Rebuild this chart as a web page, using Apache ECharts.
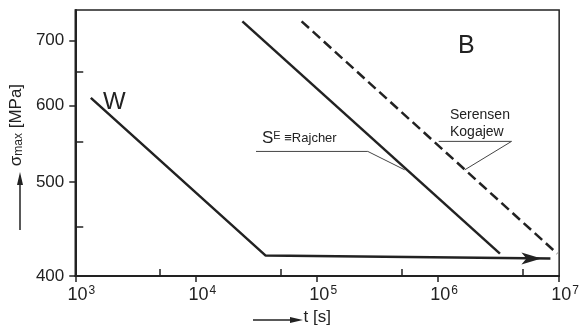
<!DOCTYPE html>
<html>
<head>
<meta charset="UTF-8">
<title>Wöhler</title>
<script src="https://cdn.jsdelivr.net/npm/echarts@6/dist/echarts.min.js"></script>
<style>
html, body { margin: 0; padding: 0; background: #fff; }
#main { width: 582px; height: 331px; }
</style>
</head>
<body>
<div id="main"></div>
<script>
// t [s] (log) vs sigma_max [MPa] (log)
var xLabelTicks = [1e3, 1e4, 1e5, 1e6, 1e7];
var xMinorTicks = [5e3, 5e4, 5e5, 5e6];
var yLabelTicks = [400, 500, 600, 700];
var yMinorTicks = [450, 550, 650];

var curveW = [[1345, 611], [37500, 420], [8.47e6, 417]];
var curveRajcher = [[24070, 733], [3.24e6, 422]];
var curveSerensen = [[74300, 733], [9.64e6, 422]];
// leader lines of the labels
var leaderRajcher = [[31200, 538], [262000, 538], [528000, 515]];
var leaderSerensen = [[1.01e6, 551], [4.04e6, 551], [1.66e6, 515]];

var ink = '#222';
var font = 'Liberation Sans';

function draw() {
    var myChart = echarts.init(document.getElementById('main'));

    var wData = curveW.map(function (p, i) {
        if (i == curveW.length - 1) {
            // arrow head at the end of W
            return {value: p, symbol: 'arrow', symbolSize: [9, 20], symbolRotate: -90, symbolOffset: [-9, 0]};
        }
        return {value: p, symbol: 'none'};
    });

    var option = {
        animation: false,
        textStyle: {fontFamily: font, color: ink},
        grid: {left: 74, right: 9, top: 10, bottom: 50, show: true, borderColor: ink, borderWidth: 1.5},
        xAxis: [
            {
                type: 'log', logBase: 10, min: 1e3, max: 1e7, position: 'bottom',
                axisLine: {show: true, lineStyle: {color: ink, width: 2}},
                axisTick: {show: true, customValues: xLabelTicks, inside: false, length: 6, lineStyle: {color: ink, width: 1.5}},
                axisLabel: {
                    customValues: xLabelTicks, margin: 9, padding: [0, 0, 0, 12],
                    formatter: function (v) {
                        return '{b|10}{sup|' + Math.round(Math.log10(v)) + '}';
                    },
                    rich: {
                        b: {fontSize: 18, fontFamily: font, color: ink},
                        sup: {fontSize: 12, fontFamily: font, color: ink, verticalAlign: 'top', padding: [0, 0, 8, 1]}
                    }
                },
                splitLine: {show: false}, minorTick: {show: false},
                name: 't [s]', nameLocation: 'middle', nameGap: 32,
                nameTextStyle: {fontSize: 17, fontFamily: font, color: ink}
            },
            {
                type: 'log', logBase: 10, min: 1e3, max: 1e7, position: 'bottom',
                axisLine: {show: false},
                axisTick: {show: true, customValues: xMinorTicks, inside: true, length: 7, lineStyle: {color: ink, width: 1.5}},
                axisLabel: {show: false},
                splitLine: {show: false}
            }
        ],
        yAxis: [
            {
                type: 'log', logBase: 10, min: 400, max: 753, position: 'left',
                axisLine: {show: true, lineStyle: {color: ink, width: 2}},
                axisTick: {show: true, customValues: yLabelTicks, inside: false, length: 6, lineStyle: {color: ink, width: 1.5}},
                axisLabel: {customValues: yLabelTicks, margin: 11, fontSize: 17, color: ink, fontFamily: font},
                splitLine: {show: false}, minorTick: {show: false},
                name: 'σ{sub|max} [MPa]', nameLocation: 'middle', nameGap: 44,
                nameTextStyle: {
                    fontSize: 17, fontFamily: font, color: ink, padding: [0, 0, 0, 36],
                    rich: {sub: {fontSize: 12, fontFamily: font, color: ink, verticalAlign: 'bottom'}}
                }
            },
            {
                type: 'log', logBase: 10, min: 400, max: 753, position: 'left',
                axisLine: {show: false},
                axisTick: {show: true, customValues: yMinorTicks, inside: true, length: 8, lineStyle: {color: ink, width: 1.5}},
                axisLabel: {show: false},
                splitLine: {show: false}
            }
        ],
        graphic: [
            {type: 'text', left: 103, top: 90, style: {text: 'W', fontSize: 24, fontFamily: font, fill: ink}},
            {type: 'text', left: 458, top: 34, style: {text: 'B', fontSize: 25, fontFamily: font, fill: ink}},
            {type: 'text', left: 262, top: 130, style: {
                text: '{s|S}{e|E}{r| ≡Rajcher}', fontFamily: font, fill: ink,
                rich: {
                    s: {fontSize: 17, fontFamily: font, fill: ink},
                    e: {fontSize: 11, fontFamily: font, fill: ink, verticalAlign: 'top'},
                    r: {fontSize: 13, fontFamily: font, fill: ink}
                }
            }},
            {type: 'text', left: 450, top: 107, style: {text: 'Serensen\nKogajew', fontSize: 14, lineHeight: 17, fontFamily: font, fill: ink}},
            // axis name arrows
            {type: 'line', shape: {x1: 253, y1: 320, x2: 296, y2: 320}, style: {stroke: ink, lineWidth: 1.5}},
            {type: 'polygon', shape: {points: [[303, 320], [290, 317], [290, 323]]}, style: {fill: ink}},
            {type: 'line', shape: {x1: 20, y1: 230, x2: 20, y2: 182}, style: {stroke: ink, lineWidth: 1.5}},
            {type: 'polygon', shape: {points: [[20, 172], [17, 185], [23, 185]]}, style: {fill: ink}}
        ],
        series: [
            {
                name: 'W', type: 'line', data: wData, showSymbol: true,
                itemStyle: {color: ink}, lineStyle: {color: ink, width: 2.5}, silent: true
            },
            {
                name: 'Rajcher', type: 'line', data: curveRajcher, symbol: 'none',
                lineStyle: {color: ink, width: 2.5}, silent: true
            },
            {
                name: 'Serensen', type: 'line', data: curveSerensen, symbol: 'none',
                lineStyle: {color: ink, width: 2.5, type: [10, 5]}, silent: true
            },
            {
                name: 'leader1', type: 'line', data: leaderRajcher, symbol: 'none',
                lineStyle: {color: '#444', width: 1}, silent: true
            },
            {
                name: 'leader2', type: 'line', data: leaderSerensen, symbol: 'none',
                lineStyle: {color: '#444', width: 1}, silent: true
            }
        ]
    };

    myChart.setOption(option);
}

window.onload = function () {
    draw();
};
</script>
</body>
</html>
